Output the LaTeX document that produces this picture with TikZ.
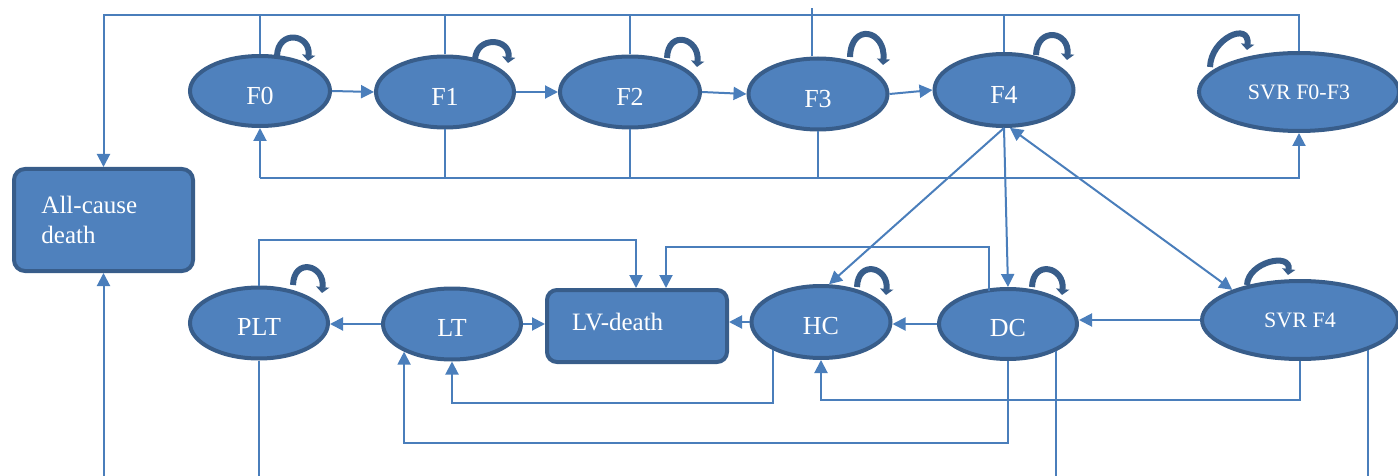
\documentclass[tikz,border=0pt]{standalone}
\usepackage{fontspec}
\setmainfont{Liberation Serif}
\usetikzlibrary{shapes.geometric,arrows.meta,calc}
\definecolor{fillb}{HTML}{4F81BD}
\definecolor{edgeb}{HTML}{385D8A}
\definecolor{lineb}{HTML}{4A7EBB}
\newcommand\sloop[6]{\draw[loopst] ($(#1)+(#2,#3)$) .. controls +(1,-#6) and +(3,-#6) .. ($(#1)+(#4,#5)$);}
\begin{document}
\begin{tikzpicture}[x=1pt,y=-1pt,
  state/.style={ellipse, draw=edgeb, fill=fillb, line width=4pt, text=white, inner sep=0pt, text height=27pt, text depth=0pt, font=\fontsize{26}{29}\selectfont},
  lowstate/.style={state, text height=25pt},
  svr/.style={state, text height=15pt, font=\fontsize{22}{26}\selectfont},
  box/.style={rectangle, rounded corners=11pt, draw=edgeb, fill=fillb, line width=4pt, text=white, inner sep=0pt, align=left, font=\fontsize{25}{30}\selectfont},
  conn/.style={draw=lineb, line width=2pt},
  arr/.style={conn, -{Triangle[length=13pt,width=13pt]}},
  arrtwo/.style={conn, {Triangle[length=13pt,width=13pt]}-{Triangle[length=13pt,width=13pt]}},
  loopst/.style={draw=edgeb, line width=6pt, -{Triangle[length=6pt,width=13pt]}}]
\useasboundingbox (0,0) rectangle (1398,476);
% nodes
\node[state, minimum width=140pt, minimum height=70pt] (F0) at (260,91) {F0};
\node[state, minimum width=138pt, minimum height=71pt] (F1) at (445,92) {F1};
\node[state, minimum width=140pt, minimum height=71pt] (F2) at (630,92) {F2};
\node[state, minimum width=139pt, minimum height=71pt] (F3) at (818,94) {F3};
\node[state, minimum width=139pt, minimum height=72pt] (F4) at (1004,90) {F4};
\node[svr, minimum width=200pt, minimum height=78pt] (S03) at (1299,92) {SVR F0-F3};
\node[box, minimum width=179pt, minimum height=102pt, text width=124pt] (AC) at (103.5,220) {All-cause\\death};
\node[lowstate, minimum width=138pt, minimum height=71pt] (PLT) at (259,323) {PLT};
\node[lowstate, minimum width=138pt, minimum height=71pt] (LT) at (452,324) {LT};
\node[box, rounded corners=10pt, minimum width=180pt, minimum height=72pt, text width=130pt, text depth=8pt] (LV) at (637,326) {LV-death};
\node[lowstate, minimum width=139pt, minimum height=72pt] (HC) at (821,322) {HC};
\node[lowstate, minimum width=138pt, minimum height=70pt] (DC) at (1008,324) {DC};
\node[svr, minimum width=196pt, minimum height=78pt] (S4) at (1300,320) {SVR F4};
% helper coordinates
\coordinate (ytop) at (0,15);
\coordinate (ybot) at (0,178);
\coordinate (yp) at (0,240);
\coordinate (yq) at (0,247);
\coordinate (yhc) at (0,403);
\coordinate (ydc) at (0,443);
\coordinate (ysv) at (0,400);
\coordinate (yend) at (0,480);
% top bus to all-cause death
\draw[arr] (S03.north) -- (S03.north |- ytop) -| (AC.north);
\draw[conn] (F0.north) -- (F0.north |- ytop);
\draw[conn] (F1.north) -- (F1.north |- ytop);
\draw[conn] (F2.north) -- (F2.north |- ytop);
\coordinate (f3t) at ($(F3.north)+(-6,0)$);
\draw[conn] (f3t) -- ++(0,-48);
\draw[conn] (F4.north) -- (F4.north |- ytop);
% bottom bus
\draw[arr] (F0.south |- ybot) -- (F0.south);
\draw[arr] (F0.south |- ybot) -| (S03.south);
\draw[conn] (F1.south) -- (F1.south |- ybot);
\draw[conn] (F2.south) -- (F2.south |- ybot);
\draw[conn] (F3.south) -- (F3.south |- ybot);
% progression
\draw[arr] (F0.east) -- (F1.west);
\draw[arr] (F1.east) -- (F2.west);
\draw[arr] (F2.east) -- (F3.west);
\draw[arr] (F3.east) -- (F4.west);
% F4 diagonals
\draw[arr] (F4.south) -- (HC.78);
\draw[arr] (F4.south) -- (DC.north);
\draw[arrtwo] (F4.-81) -- (S4.156);
% bottom row
\draw[arr] (S4.west) -- (S4.west -| DC.east);
\draw[arr] (DC.west) -- (DC.west -| HC.east);
\draw[arr] (HC.west) -- (HC.west -| LV.east);
\draw[arr] (LT.east) -- (LT.east -| LV.west);
\draw[arr] (LT.west) -- (LT.west -| PLT.east);
\draw[arr] (PLT.north) -- (PLT.north |- yp) -| ($(LV.north)+(-1,0)$);
\coordinate (dcl) at ($(DC.north)+(-19,4)$);
\draw[arr] (dcl) -- (dcl |- yq) -| ($(LV.north)+(29,0)$);
\draw[arr] (HC.-150) -- (HC.-150 |- yhc) -| (LT.south);
\draw[arr] (DC.south) -- (DC.south |- ydc) -| (LT.-150);
\draw[arr] (S4.south) -- (S4.south |- ysv) -| (HC.south);
\draw[conn] (DC.-30) -- (DC.-30 |- yend);
\draw[conn] (S4.-24) -- (S4.-24 |- yend);
\draw[conn] (PLT.south) -- (PLT.south |- yend);
\draw[arr] (AC.south |- yend) -- (AC.south);
% self loops
\sloop{F0}{17}{-35}{48}{-30}{27}
\sloop{F1}{30}{-32}{63}{-29}{25}
\sloop{F2}{37}{-34}{67}{-25}{29}
\sloop{F3}{32}{-37}{65}{-29}{35}
\sloop{F4}{32}{-35}{63}{-30}{29}
\sloop{S03}{-89}{-25}{-52}{-42}{29}
\sloop{PLT}{34}{-38}{63}{-30}{28}
\sloop{HC}{36}{-35}{65}{-27}{28}
\sloop{DC}{24}{-37}{54}{-29}{28}
\sloop{S4}{-53}{-35}{-12}{-45}{23}
\end{tikzpicture}
\end{document}
